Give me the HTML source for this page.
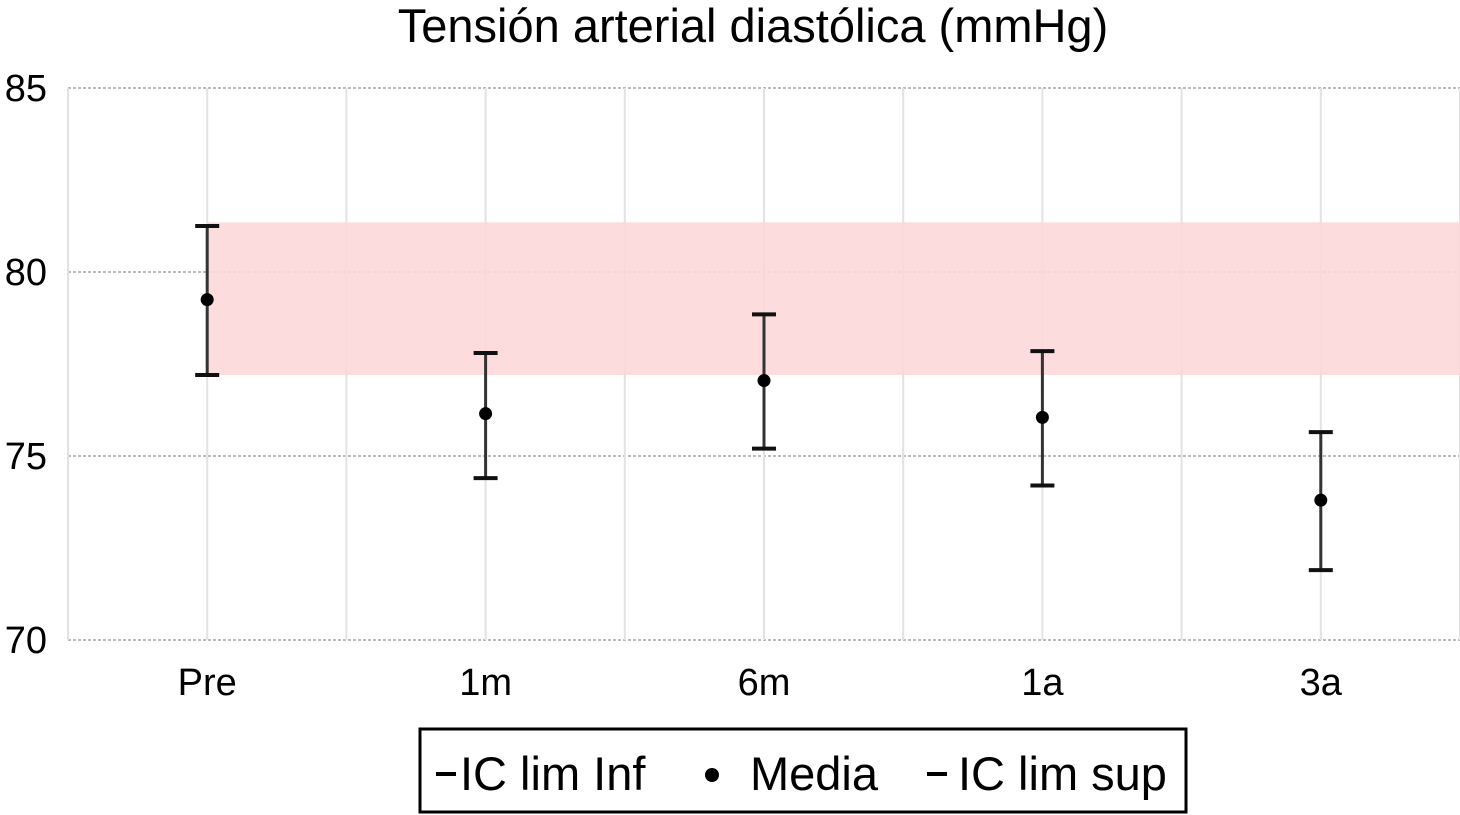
<!DOCTYPE html>
<html><head><meta charset="utf-8"><style>
body{margin:0;background:#fff;}
svg{display:block;font-family:"Liberation Sans",Arial,sans-serif;}
</style></head><body>
<svg id="chart" width="1460" height="815">
<text x="753" y="42" font-size="47" text-anchor="middle" fill="#000">Tensión arterial diastólica (mmHg)</text>
<g id="grid"></g>
<rect id="band" fill="#fdd8da"></rect>
<g id="marks"></g>
<g id="axes"></g>
<g>
<rect x="420" y="729" width="766" height="83" fill="#fff" stroke="#000" stroke-width="3"/>
<line x1="436" y1="774" x2="456" y2="774" stroke="#000" stroke-width="4"/>
<text x="460" y="790" font-size="47">IC lim Inf</text>
<circle cx="712" cy="775" r="7" fill="#000"/>
<text x="750" y="790" font-size="47">Media</text>
<line x1="927" y1="774" x2="947" y2="774" stroke="#000" stroke-width="4"/>
<text x="958" y="790" font-size="47">IC lim sup</text>
</g>
</svg>
<script>
const categories=["Pre","1m","6m","1a","3a"];
const means=[79.25,76.15,77.05,76.05,73.8];
const lowers=[77.2,74.4,75.2,74.2,71.9];
const uppers=[81.25,77.8,78.85,77.85,75.65];
const yTicks=[70,75,80,85];
const bandRange=[77.2,81.35];
const NS="http://www.w3.org/2000/svg";
const x0=68,x1=1460,yTop=88,yBot=640,yMin=70,yMax=85;
const bw=(x1-x0)/categories.length;
function y(v){return yBot-(v-yMin)/(yMax-yMin)*(yBot-yTop);}
function xc(i){return x0+bw*(i+0.5);}
function mk(tag,attrs,parent){const e=document.createElementNS(NS,tag);for(const k in attrs)e.setAttribute(k,attrs[k]);parent.appendChild(e);return e;}
const grid=document.getElementById('grid'),axes=document.getElementById('axes'),marks=document.getElementById('marks');
yTicks.forEach(t=>{
 const l=mk('line',{x1:x0,x2:x1,y1:y(t),y2:y(t),stroke:'#bbb','stroke-width':2,'stroke-dasharray':'3,2'},grid);
 
 
 const tx=mk('text',{x:47,y:y(t)+13,'font-size':38,'text-anchor':'end'},axes);
 tx.textContent=t;
 
 
});
for(let i=0;i<=categories.length;i++){
 const l=mk('line',{x1:x0+bw*i,x2:x0+bw*i,y1:yTop,y2:yBot,stroke:'#e2e2e2','stroke-width':2},grid);
 
 
}
categories.forEach((c,i)=>{
 const l=mk('line',{x1:xc(i),x2:xc(i),y1:yTop,y2:yBot,stroke:'#e2e2e2','stroke-width':2},grid);
 
 
 const t=mk('text',{x:xc(i),y:695,'font-size':38,'text-anchor':'middle'},axes);
 t.textContent=c;
 
 
});
const band=document.getElementById('band');
band.setAttribute('x',xc(0));band.setAttribute('width',x1-xc(0));
band.setAttribute('y',y(bandRange[1]));band.setAttribute('height',y(bandRange[0])-y(bandRange[1]));
band.setAttribute('opacity','0.9');
categories.forEach((c,i)=>{
 const x=xc(i);
 const v=mk('line',{x1:x,x2:x,y1:y(uppers[i]),y2:y(lowers[i]),stroke:'#333','stroke-width':3},marks);
 
 
 const u=mk('line',{x1:x-12,x2:x+12,y1:y(uppers[i]),y2:y(uppers[i]),stroke:'#111','stroke-width':4},marks);
 
 
 const lo=mk('line',{x1:x-12,x2:x+12,y1:y(lowers[i]),y2:y(lowers[i]),stroke:'#111','stroke-width':4},marks);
 
 
 const m=mk('circle',{cx:x,cy:y(means[i]),r:6.5,fill:'#000'},marks);
 
 
});
</script>
</body></html>
